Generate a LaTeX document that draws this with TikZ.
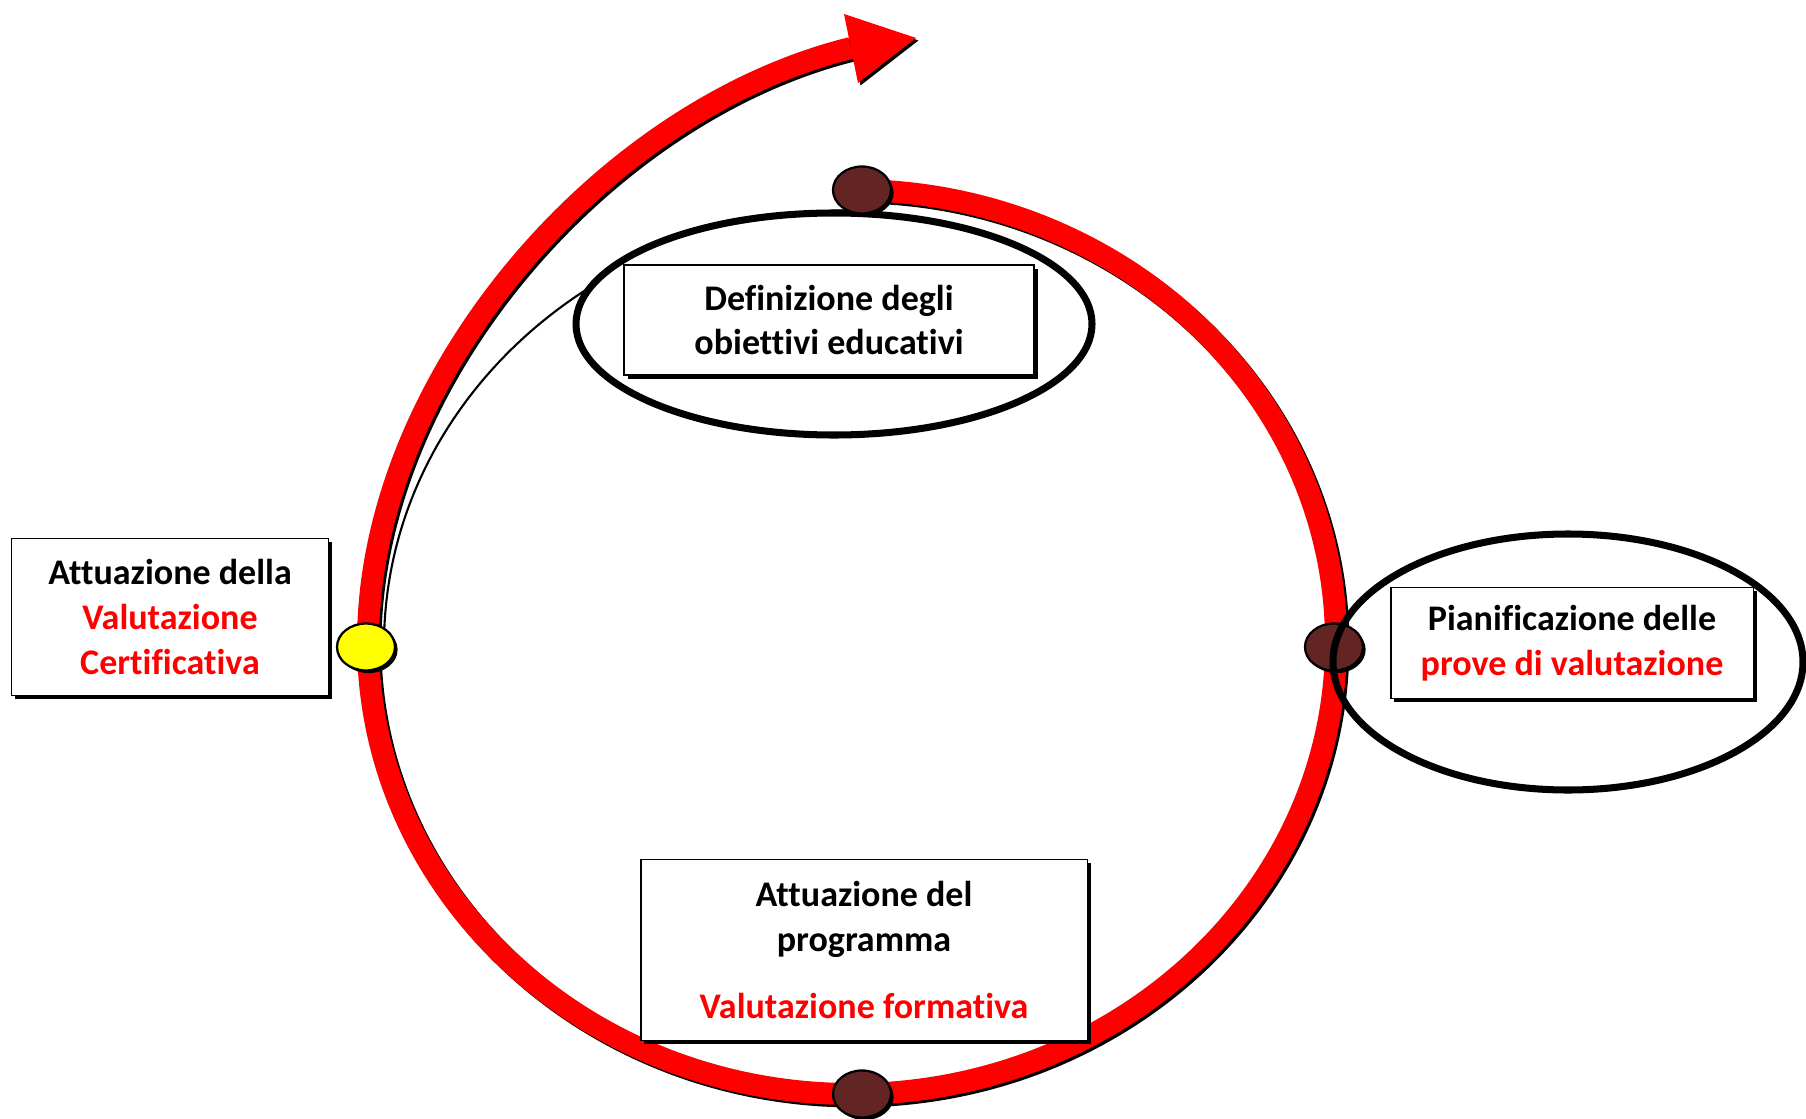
\documentclass[tikz,border=0pt]{standalone}
\usepackage{fontspec}
\setmainfont{Carlito}[Ligatures=NoCommon]
\usepackage{tikz}
\usetikzlibrary{shapes.geometric,shadows}
\definecolor{cyclered}{RGB}{255,0,0}
\definecolor{markbrown}{RGB}{99,37,35}
\definecolor{markyellow}{RGB}{255,255,0}

\begin{document}
\begin{tikzpicture}[x=0.02cm,y=-0.02cm,
  redpath/.style={cyclered,line width=12.5pt},
  redshade/.style={black,line width=12.5pt,transform canvas={xshift=1.4pt,yshift=-1.4pt}},
  stagebox/.style={draw,line width=1.1pt,fill=white,inner sep=0pt,align=center,
    font=\fontsize{20.5}{25.5}\selectfont\bfseries,
    drop shadow={shadow xshift=2.2pt,shadow yshift=-2.2pt,opacity=1,fill=black}},
  stepmark/.style={ellipse,draw,line width=1.3pt,minimum width=1.16cm,minimum height=0.94cm,inner sep=0pt,
    drop shadow={shadow xshift=1.5pt,shadow yshift=-1.5pt,opacity=1,fill=black}},
  ring/.style={draw,line width=4pt}]
\useasboundingbox (0,0) rectangle (1806,1119);
\coordinate (ptop) at (852,190);
\coordinate (pleft) at (368,642);
\coordinate (headbase) at (851,48);
\coordinate (tip) at (916,38);
% shadow of the cycle and of the outgoing arrow
\draw[redshade] (ptop) arc[start angle=-90,end angle=180,x radius=484,y radius=452];
\draw[redshade] (pleft) .. controls (368,380) and (600,110) .. (headbase);
\fill[black,transform canvas={xshift=1.4pt,yshift=-1.4pt}] (844,14) -- (tip) -- (858,83) -- cycle;
% cycle and outgoing arrow
\draw[redpath] (ptop) arc[start angle=-90,end angle=180,x radius=484,y radius=452];
\draw[redpath] (pleft) .. controls (368,380) and (600,110) .. (headbase);
\fill[cyclered] (844,14) -- (tip) -- (858,83) -- cycle;
\draw[line width=1.2pt] (384,645) arc[start angle=180,end angle=270,x radius=478,y radius=435];
% ring round the objectives
\draw[ring,fill=white] (834,324) ellipse[x radius=258,y radius=111];
% markers
\node[stepmark,fill=markbrown] (mtop) at (862,190) {};
\node[stepmark,fill=markbrown] (mbottom) at (862,1094) {};
\node[stepmark,fill=markbrown] (mright) at (1334,647) {};
\node[stepmark,fill=markyellow] (mleft) at (366,647) {};
\draw[ring] (1568,662) ellipse[x radius=235,y radius=128];
% stages
\node[stagebox,minimum width=8.2cm,minimum height=2.2cm] (objectives) at (829,320)
  {Definizione degli\\obiettivi educativi};
\node[stagebox,minimum width=7.26cm,minimum height=2.22cm] (planning) at (1572,643)
  {Pianificazione delle\\\textcolor{cyclered}{prove di valutazione}};
\node[stagebox,minimum width=8.94cm,minimum height=3.62cm] (programme) at (864,950)
  {Attuazione del\\programma\\[0.6em]\textcolor{cyclered}{Valutazione formativa}};
\node[stagebox,minimum width=6.34cm,minimum height=3.14cm] (certify) at (170,617)
  {Attuazione della\\\textcolor{cyclered}{Valutazione}\\\textcolor{cyclered}{Certificativa}};
\end{tikzpicture}
\end{document}
